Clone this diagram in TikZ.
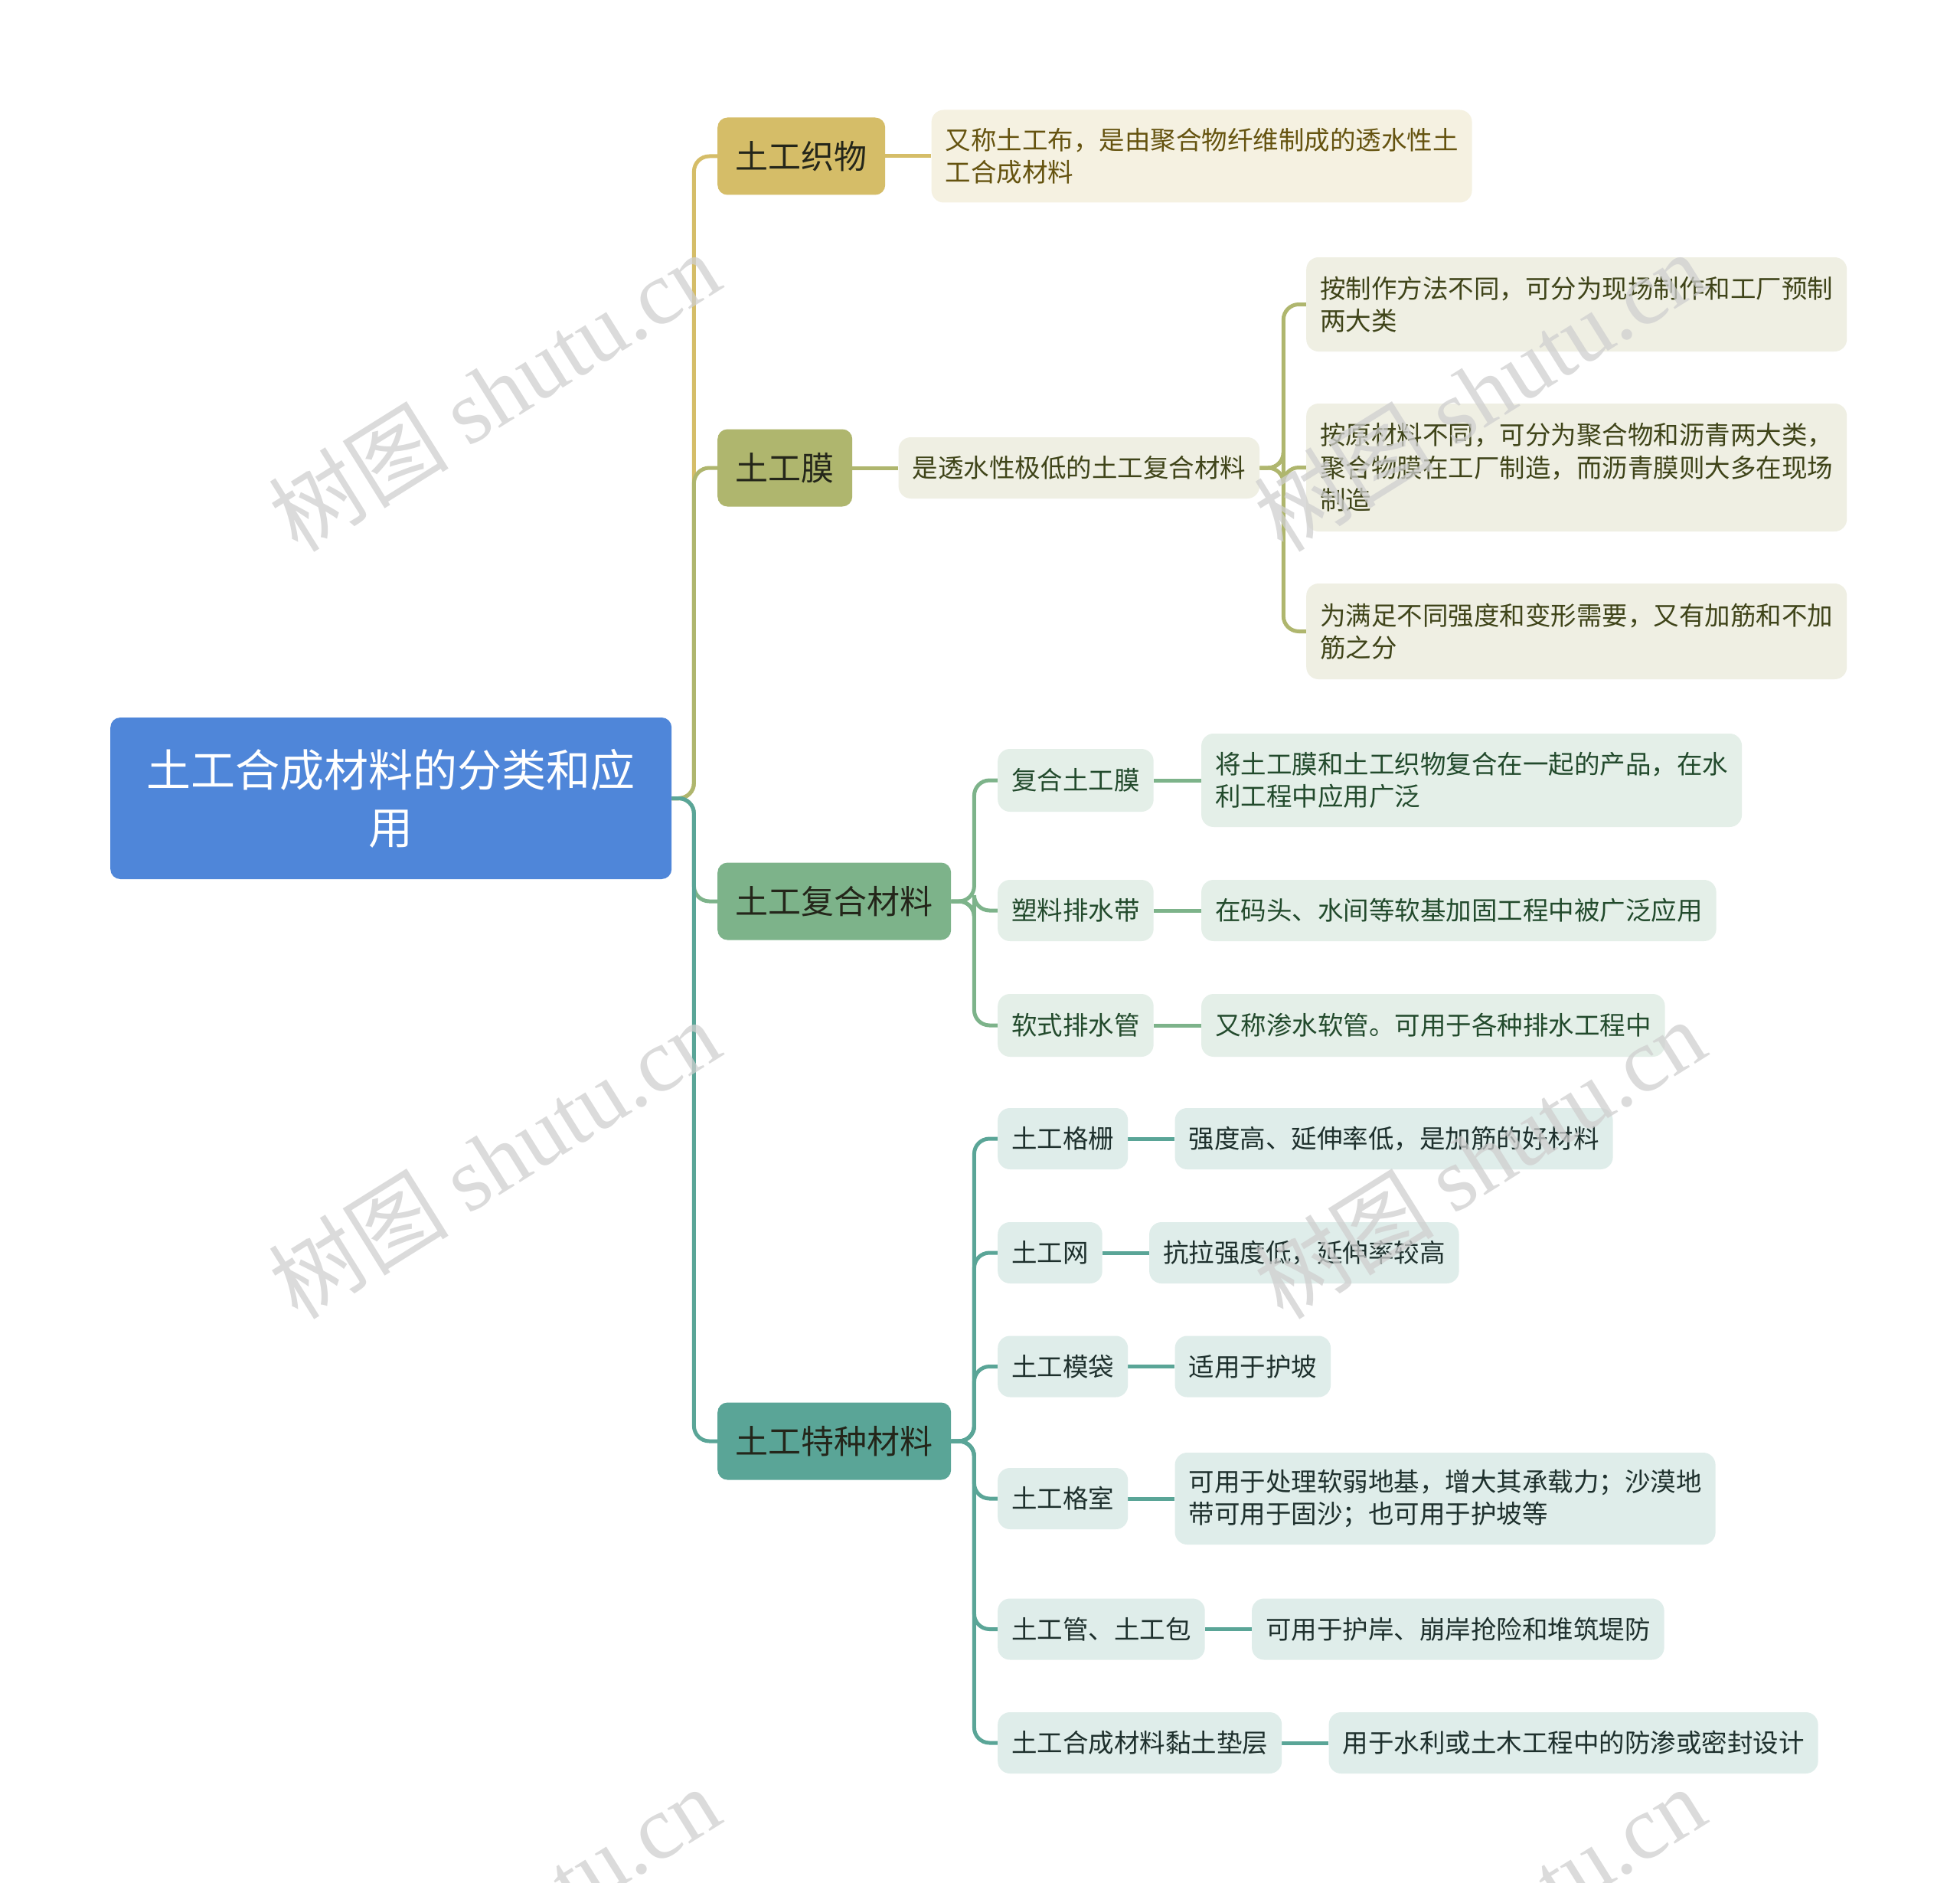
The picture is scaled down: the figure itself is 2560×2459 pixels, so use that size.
\documentclass[tikz,border=0pt]{standalone}
\usepackage{fontspec}
\setmainfont{Noto Sans CJK SC}
\newfontfamily\wmserif{Liberation Serif}
\usetikzlibrary{positioning,backgrounds}

\definecolor{rootblue}{HTML}{4F86D9}
\definecolor{colA}{HTML}{D5BD68}
\definecolor{colB}{HTML}{AFB66E}
\definecolor{colC}{HTML}{7DB38A}
\definecolor{colD}{HTML}{5AA597}
\definecolor{fillA}{HTML}{F5F1E1}
\definecolor{fillB}{HTML}{EFEFE3}
\definecolor{fillC}{HTML}{E4EFE8}
\definecolor{fillD}{HTML}{DFEDEA}
\definecolor{txtA}{HTML}{65530F}
\definecolor{txtB}{HTML}{3F4419}
\definecolor{txtC}{HTML}{224A2C}
\definecolor{txtD}{HTML}{1E302D}
\definecolor{lonetxt}{HTML}{24261A}
\definecolor{wmgray}{HTML}{CFCFCF}

\tikzset{
  conn/.style={line width=5pt, rounded corners=20pt},
  rootnode/.style={fill=rootblue, text=white, rounded corners=13pt, anchor=west,
    minimum width=733pt, minimum height=211pt, align=center, inner sep=0pt,
    font=\fontsize{58}{75}\selectfont},
  lone/.style={rounded corners=13pt, minimum height=101pt, inner xsep=23.5pt,
    inner ysep=0pt, anchor=west, text=lonetxt, font=\fontsize{43}{50}\selectfont},
  det/.style={rounded corners=16pt, inner xsep=18pt, inner ysep=0pt, anchor=west,
    minimum height=80pt, align=left, font=\fontsize{33.5}{42.5}\selectfont},
  detA/.style={det, fill=fillA, text=txtA},
  detB/.style={det, fill=fillB, text=txtB},
  detC/.style={det, fill=fillC, text=txtC},
  detD/.style={det, fill=fillD, text=txtD},
  wm/.style={text=wmgray, opacity=0.75, rotate=32, inner sep=0pt,
    font=\fontsize{118}{128}\selectfont}
}

\begin{document}
\begin{tikzpicture}[x=1pt,y=-1pt]
\useasboundingbox (0,0) rectangle (2560,2459);

% ---------- nodes ----------
\node[rootnode] (root) at (144,1042.5) {土工合成材料的分类和应\\用};

\node[lone, fill=colA] (A) at (937,204) {土工织物};
\node[lone, fill=colB] (B) at (937,611) {土工膜};
\node[lone, fill=colC] (C) at (937,1177) {土工复合材料};
\node[lone, fill=colD] (D) at (937,1882) {土工特种材料};

% A branch
\node[detA, minimum height=121pt, right=60pt of A] (A1) {又称土工布，是由聚合物纤维制成的透水性土\\工合成材料};

% B branch
\node[detB, right=60pt of B] (B1) {是透水性极低的土工复合材料};
\node[detB, minimum height=123pt] (B1a) at (1706,397.5) {按制作方法不同，可分为现场制作和工厂预制\\两大类};
\node[detB, minimum height=167pt] (B1b) at (1706,610.5) {按原材料不同，可分为聚合物和沥青两大类，\\聚合物膜在工厂制造，而沥青膜则大多在现场\\制造};
\node[detB, minimum height=125pt] (B1c) at (1706,824.5) {为满足不同强度和变形需要，又有加筋和不加\\筋之分};

% C branch
\node[detC, minimum height=82pt] (C1) at (1303,1019) {复合土工膜};
\node[detC] (C2) at (1303,1189) {塑料排水带};
\node[detC, minimum height=82pt] (C3) at (1303,1339) {软式排水管};
\node[detC, minimum height=122pt, right=62pt of C1] (C1d) {将土工膜和土工织物复合在一起的产品，在水\\利工程中应用广泛};
\node[detC, right=62pt of C2] (C2d) {在码头、水间等软基加固工程中被广泛应用};
\node[detC, minimum height=82pt, right=62pt of C3] (C3d) {又称渗水软管。可用于各种排水工程中};

% D branch
\node[detD] (D1) at (1303,1487) {土工格栅};
\node[detD] (D2) at (1303,1636) {土工网};
\node[detD] (D3) at (1303,1784.5) {土工模袋};
\node[detD] (D4) at (1303,1957) {土工格室};
\node[detD] (D5) at (1303,2127.5) {土工管、土工包};
\node[detD] (D6) at (1303,2276) {土工合成材料黏土垫层};
\node[detD, right=61pt of D1] (D1d) {强度高、延伸率低，是加筋的好材料};
\node[detD, right=61pt of D2] (D2d) {抗拉强度低，延伸率较高};
\node[detD, right=61pt of D3] (D3d) {适用于护坡};
\node[detD, minimum height=120pt, right=61pt of D4] (D4d) {可用于处理软弱地基，增大其承载力；沙漠地\\带可用于固沙；也可用于护坡等};
\node[detD, right=61pt of D5] (D5d) {可用于护岸、崩岸抢险和堆筑堤防};
\node[detD, right=61pt of D6] (D6d) {用于水利或土木工程中的防渗或密封设计};

% ---------- connectors (behind nodes) ----------
\begin{scope}[on background layer]
\fill[white] (0,0) rectangle (2560,2459);
\draw[conn, colA] (root.east) -- ++(29,0) |- (A.west);
\draw[conn, colB] (root.east) -- ++(29,0) |- (B.west);
\draw[conn, colC] (root.east) -- ++(29,0) |- (C.west);
\draw[conn, colD] (root.east) -- ++(29,0) |- (D.west);

\draw[conn, colA] (A.east) -- (A1.west);
\draw[conn, colB] (B.east) -- (B1.west);
\foreach \n in {B1a,B1b,B1c}{
  \draw[conn, colB] (B1.east) -- ++(31,0) |- (\n.west);
}
\foreach \n in {C1,C2,C3}{
  \draw[conn, colC] (C.east) -- ++(30,0) |- (\n.west);
  \draw[conn, colC] (\n.east) -- (\n d.west);
}
\foreach \n in {D1,D2,D3,D4,D5,D6}{
  \draw[conn, colD] (D.east) -- ++(30,0) |- (\n.west);
  \draw[conn, colD] (\n.east) -- (\n d.west);
}
\end{scope}

% watermarks
\begin{scope}
\clip (0,0) rectangle (2560,2459);
\foreach \wx in {645,1932}{
  \foreach \wy in {511,1513,2515}{
    \node[wm] at (\wx,\wy) {树图 {\wmserif shutu.cn}};
  }
}
\end{scope}
\end{tikzpicture}
\end{document}
